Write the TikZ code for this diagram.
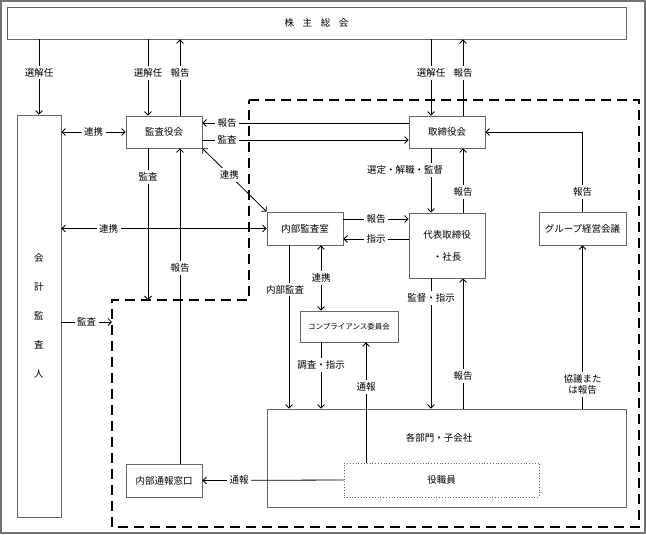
\documentclass[tikz,border=0pt]{standalone}
\usepackage{fontspec}
\setmainfont{Noto Sans CJK JP}
\usetikzlibrary{arrows.meta,positioning}

\begin{document}
\begin{tikzpicture}[
      x=1pt, y=-1pt,
      every node/.style={font=\fontsize{9.5}{11}\selectfont},
      box/.style={draw=black!60, line width=0.8pt, inner sep=0pt},
      lbl/.style={fill=white, inner sep=2.5pt},
      arr/.style={-{Straight Barb[length=3.5pt,width=7pt]}, line width=0.8pt},
      link/.style={{Straight Barb[length=3.5pt,width=7pt]}-{Straight Barb[length=3.5pt,width=7pt]}, line width=0.8pt}
    ]
    \useasboundingbox (0,0) rectangle (646,535);

    % Frame
    \draw[black!55, line width=1.2pt] (1,1) rectangle (645,533);

    % Group area
    \draw[line width=2.2pt, dash pattern=on 10pt off 6pt]
      (249,100) -- (639,100) -- (639,527) -- (112,527) -- (112,300) -- (249,300) -- cycle;

    % Boxes
    \node[box, minimum width=619, minimum height=32] (soukai) at (316.5,23)
      {株\hspace{0.9em}主\hspace{0.9em}総\hspace{0.9em}会};
    \node[box, minimum width=44, minimum height=402, align=center,
      font=\fontsize{9.5}{29}\selectfont] (kaikei) at (39,316) {会\\計\\監\\査\\人};
    \node[box, minimum width=76, minimum height=32] (kansa) at (164,132) {監査役会};
    \node[box, minimum width=76, minimum height=32] (torishimari) at (447,132) {取締役会};
    \node[box, minimum width=76, minimum height=33] (naibu) at (305,228.5) {内部監査室};
    \node[box, minimum width=76, minimum height=65, align=center,
      font=\fontsize{9.5}{22}\selectfont] (daihyo) at (447,245.5) {代表取締役\\・社長};
    \node[box, minimum width=87, minimum height=33] (group) at (582.5,228.5) {グループ経営会議};
    \node[box, minimum width=98, minimum height=31,
      font=\fontsize{7.5}{9}\selectfont] (comp) at (349,326.5) {コンプライアンス委員会};
    \node[box, minimum width=359, minimum height=98] (kakubu) at (446.5,458) {};
    \node (kakubutxt) at (439,438) {各部門・子会社};
    \node[box, dotted, minimum width=195, minimum height=34] (yakushoku) at (441.5,480) {役職員};
    \node[box, minimum width=76, minimum height=33] (madoguchi) at (164,480.5) {内部通報窓口};

    \coordinate (kansaaim) at (148,300);
    \coordinate (kaikeiaim) at (112,322);

    % Shareholders
    \draw[arr] (soukai.south -| kaikei) -- node[lbl, pos=0.44] {選解任} (kaikei.north);
    \draw[arr] ([xshift=-16pt]soukai.south -| kansa.north) -- node[lbl, pos=0.44] {選解任} ([xshift=-16pt]kansa.north);
    \draw[arr] ([xshift=16pt]kansa.north) -- node[lbl, pos=0.56] {報告} ([xshift=16pt]soukai.south -| kansa.north);
    \draw[arr] ([xshift=-16pt]soukai.south -| torishimari.north) -- node[lbl, pos=0.44] {選解任} ([xshift=-16pt]torishimari.north);
    \draw[arr] ([xshift=16pt]torishimari.north) -- node[lbl, pos=0.56] {報告} ([xshift=16pt]soukai.south -| torishimari.north);

    % Auditors
    \draw[link] (kaikei.east |- kansa.west) -- node[lbl] {連携} (kansa.west);
    \draw[arr] (torishimari.west |- 0,123) -- node[lbl, pos=0.88] {報告} (kansa.east |- 0,123);
    \draw[arr] (kansa.east |- 0,140) -- node[lbl, pos=0.12] {監査} (torishimari.west |- 0,140);
    \draw[arr] ([xshift=-16pt]kansa.south) -- node[lbl, pos=0.19] {監査} (kansaaim);
    \draw[arr] ([xshift=16pt]madoguchi.north) -- node[lbl, pos=0.62] {報告} ([xshift=16pt]kansa.south);
    \draw[link] (kansa.south east) -- node[lbl, pos=0.42] {連携} (naibu.north west);
    \draw[link] (kaikei.east |- naibu.west) -- node[lbl, pos=0.23] {連携} (naibu.west);
    \draw[arr] (kaikei.east |- kaikeiaim) -- node[lbl] {監査} (kaikeiaim);

    % Management
    \draw[arr] (naibu.east |- 0,219) -- node[lbl] {報告} (daihyo.west |- 0,219);
    \draw[arr] (daihyo.west |- 0,239) -- node[lbl] {指示} (naibu.east |- 0,239);
    \draw[arr] ([xshift=-16pt]torishimari.south) -- node[lbl, pos=0.34, xshift=-26pt] {選定・解職・監督} ([xshift=-16pt]daihyo.north);
    \draw[arr] ([xshift=16pt]daihyo.north) -- node[lbl, pos=0.32] {報告} ([xshift=16pt]torishimari.south);
    \draw[arr] (group.north) |- node[lbl, pos=0.125] {報告} (torishimari.east);

    % Compliance
    \draw[link] ([xshift=16pt]naibu.south) -- node[lbl] {連携} ([xshift=16pt]naibu.south |- comp.north);
    \draw[arr] ([xshift=-16pt]naibu.south) -- node[lbl, pos=0.27, xshift=-4pt] {内部監査} ([xshift=-16pt]naibu.south |- kakubu.north);
    \draw[arr] ([xshift=-28pt]comp.south) -- node[lbl, pos=0.34] {調査・指示} ([xshift=-28pt]comp.south |- kakubu.north);
    \draw[arr] ([xshift=17pt]comp.south |- yakushoku.north) -- node[lbl, pos=0.63] {通報} ([xshift=17pt]comp.south);

    % Departments
    \draw[arr] ([xshift=-16pt]daihyo.south) -- node[lbl, pos=0.15] {監督・指示} ([xshift=-16pt]daihyo.south |- kakubu.north);
    \draw[arr] ([xshift=16pt]daihyo.south |- kakubu.north) -- node[lbl, pos=0.25] {報告} ([xshift=16pt]daihyo.south);
    \draw[arr] (group.south |- kakubu.north) -- node[lbl, pos=0.15, align=center] {協議また\\は報告} (group.south);
    \draw[arr] (yakushoku.west) -- node[lbl, pos=0.74] {通報} (madoguchi.east);

  \end{tikzpicture}
\end{document}
